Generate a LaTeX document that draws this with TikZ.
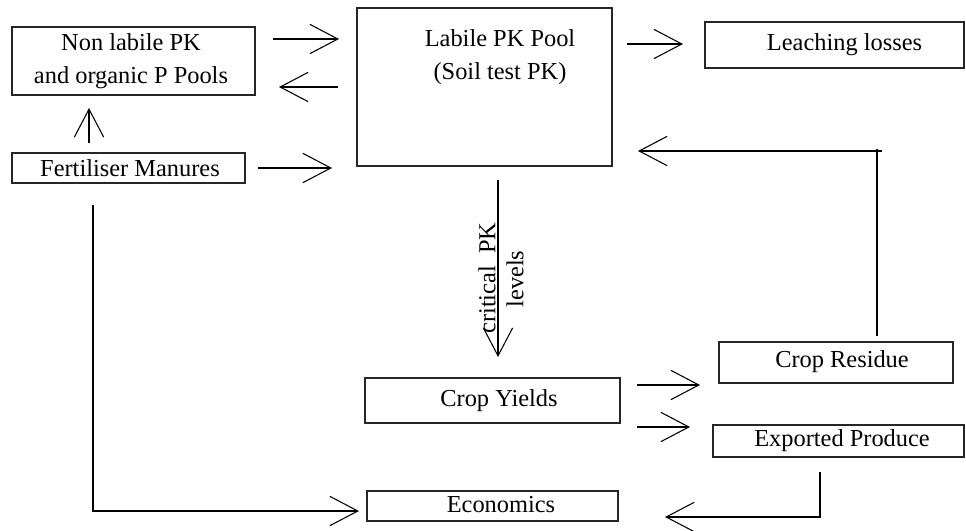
\documentclass[tikz,border=0pt]{standalone}
\usepackage{fontspec}
\setmainfont{Liberation Serif}
\usetikzlibrary{arrows.meta}
\begin{document}
\begin{tikzpicture}[x=0.75pt,y=-0.75pt,
  box/.style={draw=black!85,line width=0.9pt,inner sep=0pt,outer sep=0pt},
  txt/.style={inner sep=0pt,align=center,font=\fontsize{18.3}{24.5}\selectfont},
  conn/.style={line width=0.8pt,-{Straight Barb[length=21pt,width=22pt,line width=0.8pt]}},
  plain/.style={line width=0.8pt}]
\useasboundingbox (0,0) rectangle (966,531);
% boxes
\node[box,minimum width=182.25pt,minimum height=51pt] (nl) at (133.5,61) {};
\node[box,minimum width=174.75pt,minimum height=22.5pt] (fm) at (128.5,168) {};
\node[box,minimum width=191.25pt,minimum height=118.5pt] (lab) at (484.5,87) {};
\node[box,minimum width=194.25pt,minimum height=34.5pt] (lea) at (834.5,45) {};
\node[box,minimum width=175.5pt,minimum height=30.75pt] (cr) at (836,362.5) {};
\node[box,minimum width=188.25pt,minimum height=24pt] (ep) at (838.5,441) {};
\node[box,minimum width=191.25pt,minimum height=33.75pt] (cy) at (492.5,400.5) {};
\node[box,minimum width=188.25pt,minimum height=22.5pt] (eco) at (492.5,506) {};
% texts
\node[txt] (tnl) at (131,61) {Non labile PK\\and organic P Pools};
\node[txt] (tfm) at (130,168) {Fertiliser Manures};
\node[txt] (tlab) at (500,57) {Labile PK Pool\\(Soil test PK)};
\node[txt] (tlea) at (844.5,45) {Leaching losses};
\node[txt] (tcr) at (842,362) {Crop Residue};
\node[txt] (tep) at (842,441) {Exported Produce};
\node[txt] (tcy) at (499,401) {Crop Yields};
\node[txt] (teco) at (501,505) {Economics};
\node[txt,rotate=90] (tcrit) at (487,278) {critical~~PK};
\node[txt,rotate=90] (tlev) at (515,279) {levels};
% connector end points
\coordinate (a1s) at (273,39);  \coordinate (a1e) at (339,39);
\coordinate (a2s) at (338,87);  \coordinate (a2e) at (279,87);
\coordinate (a3s) at (258,168); \coordinate (a3e) at (332,168);
\coordinate (a4s) at (89,143);  \coordinate (a4e) at (89,108);
\coordinate (a5s) at (627,44);  \coordinate (a5e) at (683,44);
\coordinate (a6s) at (877,336); \coordinate (a6c) at (877,149);
\coordinate (a6h) at (882,151); \coordinate (a6e) at (638,151);
\coordinate (a7s) at (498,180); \coordinate (a7e) at (498,357);
\coordinate (a8s) at (637,385); \coordinate (a8e) at (700,385);
\coordinate (a9s) at (637,427); \coordinate (a9e) at (690,427);
\coordinate (a10s) at (820,472); \coordinate (a10c) at (820,517); \coordinate (a10e) at (665,517);
\coordinate (a11s) at (93,205); \coordinate (a11c) at (93,511); \coordinate (a11e) at (359,511);
% connectors
\draw[conn] (a1s) -- (a1e);
\draw[conn] (a2s) -- (a2e);
\draw[conn] (a3s) -- (a3e);
\draw[conn] (a4s) -- (a4e);
\draw[conn] (a5s) -- (a5e);
\draw[plain] (a6s) -- (a6c);
\draw[conn] (a6h) -- (a6e);
\draw[conn] (a7s) -- (a7e);
\draw[conn] (a8s) -- (a8e);
\draw[conn] (a9s) -- (a9e);
\draw[conn] (a10s) -- (a10c) -- (a10e);
\draw[conn] (a11s) -- (a11c) -- (a11e);
\end{tikzpicture}
\end{document}
